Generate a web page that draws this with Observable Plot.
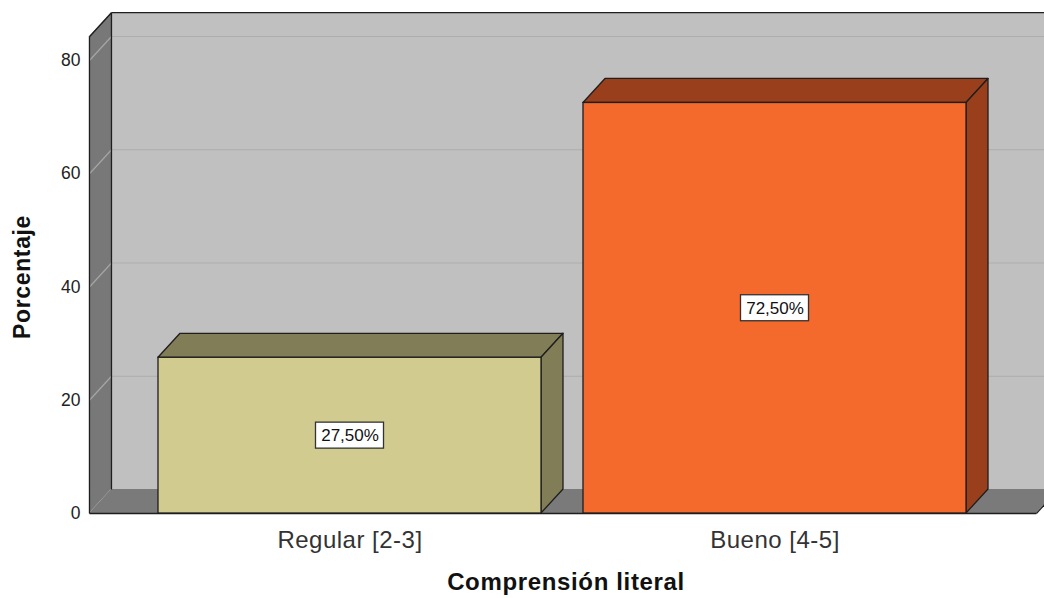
<!DOCTYPE html>
<html><head><meta charset="utf-8">
<script src="https://cdn.jsdelivr.net/npm/d3@7"></script>
<script src="https://cdn.jsdelivr.net/npm/@observablehq/plot@0.6"></script>
<style>
html,body{margin:0;padding:0;background:#fff;overflow:hidden;}
#chart svg{overflow:hidden !important;}
</style>
</head><body><div id="chart"></div>
<script>
// ---- data ----
const categories = ["Regular [2-3]", "Bueno [4-5]"];
const percentages = [27.5, 72.5];
const valueLabels = ["27,50%", "72,50%"];
const yTicks = [0, 20, 40, 60, 80];
const frontColors = ["#d1cb8f", "#f4692c"];
const shadeColors = ["#817d57", "#9a3f1b"];
const xTitle = "Comprensión literal";
const yTitle = "Porcentaje";

// ---- layout (style) constants, in scale units ----
const HW = 0.4506;               // half bar width (category units)
const DX = 22 / 425;             // depth offset in x (category units)
const DY = 24 / 5.6625;          // depth offset in y (percentage units)
const WALL_L = -0.613, WALL_R = 1.615, WALL_TOP = 84.2;
const BOX_HW = 34 / 425, BOX_HH = 13 / 5.6625;
const EDGE = "#1e1e1e";

const bars = categories.map((c, i) => ({c, i, v: percentages[i], label: valueLabels[i], front: frontColors[i], shade: shadeColors[i]}));
const tops = bars.flatMap(b => [
  {c: b.c, fill: b.shade, y: b.v, x1: b.i - HW, x2: b.i + HW},
  {c: b.c, fill: b.shade, y: b.v + DY, x1: b.i - HW + DX, x2: b.i + HW + DX}
]);
const sides = bars.flatMap(b => [
  {c: b.c, fill: b.shade, x: b.i + HW, y1: 0, y2: b.v},
  {c: b.c, fill: b.shade, x: b.i + HW + DX, y1: DY, y2: b.v + DY}
]);
const leftWall = [{x: WALL_L, y1: 0, y2: WALL_TOP}, {x: WALL_L + DX, y1: DY, y2: WALL_TOP + DY}];
const floor = [{y: 0, x1: WALL_L, x2: WALL_R}, {y: DY, x1: WALL_L + DX, x2: WALL_R + DX}];
const grid = yTicks.filter(t => t > 0);
const edges = [
  [WALL_L, 0, WALL_L, WALL_TOP],
  [WALL_L, WALL_TOP, WALL_L + DX, WALL_TOP + DY],
  [WALL_L + DX, WALL_TOP + DY, WALL_R + 1, WALL_TOP + DY],
  [WALL_L + DX, DY, WALL_L + DX, WALL_TOP + DY],
  [WALL_L, 0, WALL_R, 0],
  [WALL_R, 0, WALL_R + DX, DY]
].map(([x1, y1, x2, y2]) => ({x1, y1, x2, y2}));

const font = "'Liberation Sans', Arial, sans-serif";

const chart = Plot.plot({
  width: 1044,
  height: 598,
  marginLeft: 89,
  marginRight: 0,
  marginTop: 0,
  marginBottom: 85,
  style: {fontFamily: font, background: "#fff", color: "#222"},
  x: {domain: [0, 1], range: [349.5, 774.5], axis: null},
  y: {domain: [0, 80], range: [513, 60], axis: null},
  color: {type: "identity"},
  marks: [
    // back wall
    Plot.rect([0], {x1: WALL_L + DX, x2: WALL_R + 1, y1: DY, y2: WALL_TOP + DY, fill: "#c0c0c0"}),
    // left wall
    Plot.areaY(leftWall, {x: "x", y1: "y1", y2: "y2", fill: "#787878"}),
    // floor
    Plot.areaX(floor, {y: "y", x1: "x1", x2: "x2", fill: "#7a7a7a"}),
    // grid lines
    Plot.ruleY(grid, {y: t => t + DY, x1: WALL_L + DX, x2: WALL_R + 1, stroke: "#adadad", strokeWidth: 1.2}),
    Plot.link(grid, {x1: WALL_L, y1: t => t, x2: WALL_L + DX, y2: t => t + DY, stroke: "#a6a6a6", strokeWidth: 1.2}),
    // frame edges
    Plot.link(edges, {x1: "x1", y1: "y1", x2: "x2", y2: "y2", stroke: EDGE, strokeWidth: 1.3}),
    // bars
    Plot.areaX(tops, {y: "y", x1: "x1", x2: "x2", z: "c", fill: "fill", stroke: EDGE, strokeWidth: 1.3, strokeLinejoin: "round"}),
    Plot.areaY(sides, {x: "x", y1: "y1", y2: "y2", z: "c", fill: "fill", stroke: EDGE, strokeWidth: 1.3, strokeLinejoin: "round"}),
    Plot.rect(bars, {x1: d => d.i - HW, x2: d => d.i + HW, y1: 0, y2: "v", fill: "front", stroke: EDGE, strokeWidth: 1.3}),
    // value label boxes
    Plot.rect(bars, {x1: d => d.i - BOX_HW, x2: d => d.i + BOX_HW, y1: d => d.v / 2 - BOX_HH, y2: d => d.v / 2 + BOX_HH, fill: "#fff", stroke: "#333", strokeWidth: 1.3}),
    Plot.text(bars, {x: "i", y: d => d.v / 2, text: "label", fontSize: 17, fill: "#111"}),
    // axes
    Plot.axisY(yTicks, {tickSize: 0, tickPadding: 9, fontSize: 17.5, label: null, fill: "#222"}),
    Plot.text(bars, {x: "i", y: 0, text: "c", dy: 27, fontSize: 24, fill: "#333"}),
    Plot.text([xTitle], {frameAnchor: "bottom", dx: -1, dy: 76, fontSize: 24, fontWeight: "bold", fill: "#111"}),
    Plot.text([yTitle], {frameAnchor: "left", textAnchor: "middle", dx: -67, dy: 20, rotate: -90, fontSize: 23, fontWeight: "bold", fill: "#111"})
  ]
});
// widen letter spacing of the titles and category labels like the reference
chart.querySelectorAll("text").forEach(t => {
  const s = t.textContent;
  if (s === xTitle || s === yTitle) t.setAttribute("letter-spacing", "0.65");
  if (categories.includes(s)) t.setAttribute("letter-spacing", "0.5");
});
document.getElementById("chart").append(chart);
</script>
</body></html>
